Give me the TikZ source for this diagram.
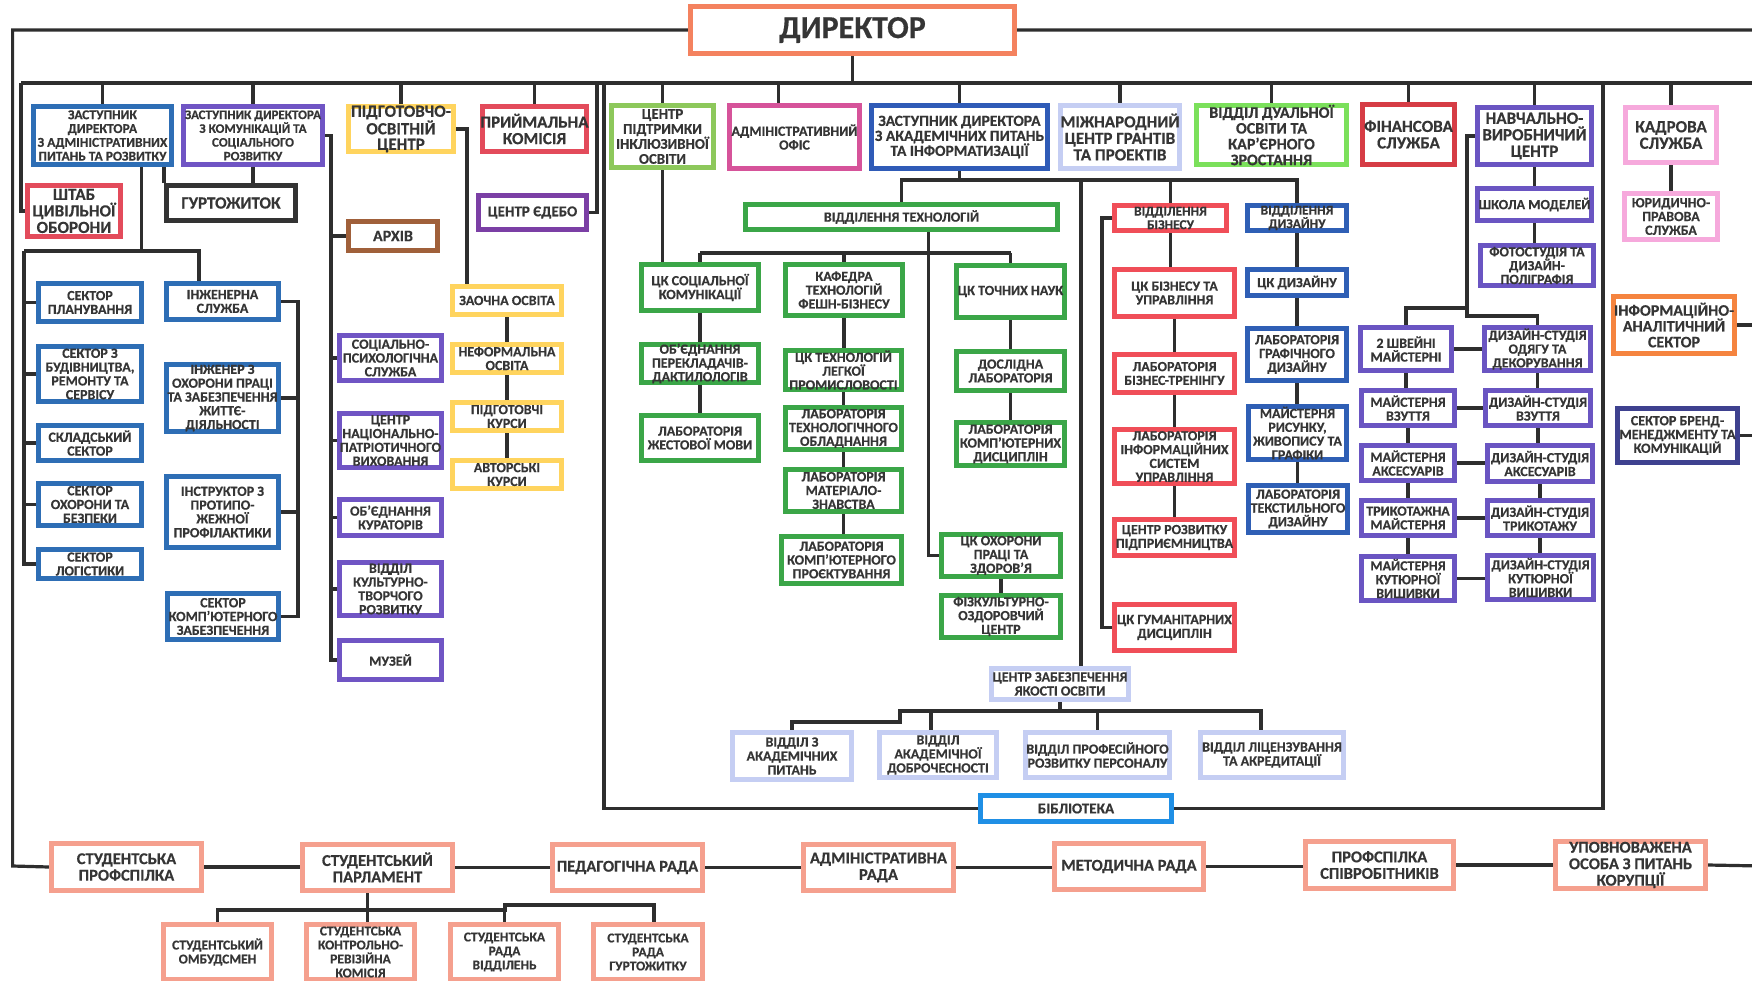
\documentclass[tikz,border=0pt]{standalone}
\usepackage{fontspec}
\setmainfont{Carlito}[BoldFeatures={FakeBold=0.4}]
\pgfdeclarelayer{bg}
\pgfsetlayers{bg,main}
\definecolor{txt}{HTML}{353535}
\definecolor{lnc}{HTML}{2E2E2E}
\definecolor{cDir}{HTML}{F4825F}
\definecolor{cSal}{HTML}{F5A08E}
\definecolor{cBlue}{HTML}{2E6EB5}
\definecolor{cPurp}{HTML}{7055C4}
\definecolor{cRed}{HTML}{E34B5B}
\definecolor{cRedB}{HTML}{D63C45}
\definecolor{cRedC}{HTML}{F04E58}
\definecolor{cYel}{HTML}{FFD45E}
\definecolor{cBrown}{HTML}{A0603A}
\definecolor{cEdebo}{HTML}{7B3FA5}
\definecolor{cGrnA}{HTML}{8DC85B}
\definecolor{cGrnB}{HTML}{7BE05B}
\definecolor{cGrnC}{HTML}{3BA648}
\definecolor{cPink}{HTML}{D6539A}
\definecolor{cPinkL}{HTML}{F6A9DC}
\definecolor{cBlueB}{HTML}{2F5BB7}
\definecolor{cBlueC}{HTML}{2F5FB5}
\definecolor{cLav}{HTML}{C5CEF3}
\definecolor{cNvc}{HTML}{6A55C2}
\definecolor{cOrange}{HTML}{F5843F}
\definecolor{cNavy}{HTML}{3E418F}
\definecolor{cBib}{HTML}{1F8FE5}
\definecolor{cBlack}{HTML}{333333}
\newcommand\fzDir{\fontsize{32}{34}\selectfont\bfseries}
\newcommand\fzL{\fontsize{17}{16.5}\selectfont\bfseries}
\newcommand\fzLm{\fontsize{16}{15.8}\selectfont\bfseries}
\newcommand\fzB{\fontsize{16.5}{16.5}\selectfont\bfseries}
\newcommand\fzMm{\fontsize{15}{15}\selectfont\bfseries}
\newcommand\fzM{\fontsize{14}{13.8}\selectfont\bfseries}
\newcommand\fzMs{\fontsize{13.5}{13.5}\selectfont\bfseries}
\newcommand\fzS{\fontsize{13.5}{13.8}\selectfont\bfseries}
\newcommand\fzQ{\fontsize{14}{14}\selectfont\bfseries}
\newcommand\fzT{\fontsize{13.5}{14}\selectfont\bfseries}
% name x1 y1 x2 y2 colour font text
\newcommand\obox[8]{%
  \node[box, draw=#6, minimum width={#4pt-#2pt-5pt}, minimum height={#5pt-#3pt-5pt}]
    (#1) at ({(#2+#4)/2},{(#3+#5)/2}) {};
  \node[lbl, font=#7] (#1-t) at (#1.center) {#8};}
\begin{document}
\begin{tikzpicture}[x=1pt,y=-1pt,
  box/.style={rectangle, line width=5pt, fill=white, inner sep=0pt},
  lbl/.style={text=txt, align=center, inner sep=0pt},
  ln/.style={line width=3.2pt, draw=lnc}]
\useasboundingbox (0,0) rectangle (1752,980);
\clip (0,0) rectangle (1752,980);

\obox{dir}{688}{4}{1017}{56}{cDir}{\fzDir}{ДИРЕКТОР}
% top row
\obox{zadm}{31}{104}{174}{167}{cBlue}{\fzS}{ЗАСТУПНИК\\ДИРЕКТОРА\\З АДМІНІСТРАТИВНИХ\\ПИТАНЬ ТА РОЗВИТКУ}
\obox{zkom}{181}{104}{325}{167}{cPurp}{\fontsize{13}{13.8}\selectfont\bfseries}{ЗАСТУПНИК ДИРЕКТОРА\\З КОМУНІКАЦІЙ ТА\\СОЦІАЛЬНОГО\\РОЗВИТКУ}
\obox{shtab}{25}{183}{123}{239}{cRed}{\fzL}{ШТАБ\\ЦИВІЛЬНОЇ\\ОБОРОНИ}
\obox{gurt}{164}{183}{298}{223}{cBlack}{\fzL}{ГУРТОЖИТОК}
\obox{pidg}{346}{104}{456}{154}{cYel}{\fontsize{17}{15.5}\selectfont\bfseries}{ПІДГОТОВЧО-\\ОСВІТНІЙ\\ЦЕНТР}
\obox{arch}{346}{219}{440}{253}{cBrown}{\fzLm}{АРХІВ}
\obox{prkom}{480}{104}{589}{154}{cRed}{\fzL}{ПРИЙМАЛЬНА\\КОМІСІЯ}
\obox{edebo}{476}{193}{589}{232}{cEdebo}{\fzMm}{ЦЕНТР ЄДЕБО}
\obox{zaoch}{450}{284}{564}{317}{cYel}{\fzM}{ЗАОЧНА ОСВІТА}
\obox{nef}{450}{342}{564}{375}{cYel}{\fzM}{НЕФОРМАЛЬНА\\ОСВІТА}
\obox{pkur}{450}{400}{564}{433}{cYel}{\fzM}{ПІДГОТОВЧІ\\КУРСИ}
\obox{avt}{450}{458}{564}{491}{cYel}{\fzM}{АВТОРСЬКІ\\КУРСИ}
% admin sectors
\obox{splan}{36}{281}{144}{324}{cBlue}{\fzM}{СЕКТОР\\ПЛАНУВАННЯ}
\obox{sbud}{36}{344}{144}{404}{cBlue}{\fzM}{СЕКТОР З\\БУДІВНИЦТВА,\\РЕМОНТУ ТА\\СЕРВІСУ}
\obox{sskl}{36}{423}{144}{463}{cBlue}{\fzM}{СКЛАДСЬКИЙ\\СЕКТОР}
\obox{sohb}{36}{481}{144}{528}{cBlue}{\fzM}{СЕКТОР\\ОХОРОНИ ТА\\БЕЗПЕКИ}
\obox{slog}{36}{547}{144}{581}{cBlue}{\fzM}{СЕКТОР\\ЛОГІСТИКИ}
\obox{inzh}{164}{281}{281}{322}{cBlue}{\fzM}{ІНЖЕНЕРНА\\СЛУЖБА}
\obox{inop}{164}{362}{281}{434}{cBlue}{\fzM}{ІНЖЕНЕР З\\ОХОРОНИ ПРАЦІ\\ТА ЗАБЕЗПЕЧЕННЯ\\ЖИТТЄ-\\ДІЯЛЬНОСТІ}
\obox{inpr}{164}{474}{281}{550}{cBlue}{\fzM}{ІНСТРУКТОР З\\ПРОТИПО-\\ЖЕЖНОЇ\\ПРОФІЛАКТИКИ}
\obox{skomp}{165}{591}{281}{642}{cBlue}{\fzM}{СЕКТОР\\КОМП’ЮТЕРНОГО\\ЗАБЕЗПЕЧЕННЯ}
% communication column
\obox{sps}{337}{333}{444}{383}{cPurp}{\fzM}{СОЦІАЛЬНО-\\ПСИХОЛОГІЧНА\\СЛУЖБА}
\obox{cnp}{337}{411}{444}{470}{cPurp}{\fzM}{ЦЕНТР\\НАЦІОНАЛЬНО-\\ПАТРІОТИЧНОГО\\ВИХОВАННЯ}
\obox{okur}{337}{497}{444}{538}{cPurp}{\fzM}{ОБ’ЄДНАННЯ\\КУРАТОРІВ}
\obox{vktr}{337}{560}{444}{618}{cPurp}{\fzM}{ВІДДІЛ\\КУЛЬТУРНО-\\ТВОРЧОГО\\РОЗВИТКУ}
\obox{muz}{337}{638}{444}{682}{cPurp}{\fzM}{МУЗЕЙ}
% middle top row
\obox{cpio}{609}{103}{716}{170}{cGrnA}{\fontsize{14.8}{15}\selectfont\bfseries}{ЦЕНТР\\ПІДТРИМКИ\\ІНКЛЮЗИВНОЇ\\ОСВІТИ}
\obox{adof}{727}{103}{862}{171}{cPink}{\fzM}{АДМІНІСТРАТИВНИЙ\\ОФІС}
\obox{zak}{869}{103}{1050}{171}{cBlueB}{\fontsize{15.5}{15}\selectfont\bfseries}{ЗАСТУПНИК ДИРЕКТОРА\\З АКАДЕМІЧНИХ ПИТАНЬ\\ТА ІНФОРМАТИЗАЦІЇ}
\obox{mcg}{1058}{103}{1182}{171}{cLav}{\fzL}{МІЖНАРОДНИЙ\\ЦЕНТР ГРАНТІВ\\ТА ПРОЕКТІВ}
\obox{dual}{1194}{103}{1349}{167}{cGrnB}{\fzLm}{ВІДДІЛ ДУАЛЬНОЇ\\ОСВІТИ ТА\\КАР’ЄРНОГО\\ЗРОСТАННЯ}
\obox{fin}{1360}{102}{1457}{167}{cRedB}{\fzL}{ФІНАНСОВА\\СЛУЖБА}
\obox{nvc}{1475}{105}{1594}{167}{cNvc}{\fzL}{НАВЧАЛЬНО-\\ВИРОБНИЧИЙ\\ЦЕНТР}
\obox{kadr}{1623}{105}{1719}{165}{cPinkL}{\fzL}{КАДРОВА\\СЛУЖБА}
\obox{yur}{1622}{191}{1720}{242}{cPinkL}{\fzM}{ЮРИДИЧНО-\\ПРАВОВА\\СЛУЖБА}
\obox{ias}{1611}{294}{1737}{356}{cOrange}{\fzLm}{ІНФОРМАЦІЙНО-\\АНАЛІТИЧНИЙ\\СЕКТОР}
\obox{brand}{1615}{406}{1740}{465}{cNavy}{\fzM}{СЕКТОР БРЕНД-\\МЕНЕДЖМЕНТУ ТА\\КОМУНІКАЦІЙ}
% technologies
\obox{vtech}{743}{202}{1060}{232}{cGrnC}{\fzM}{ВІДДІЛЕННЯ ТЕХНОЛОГІЙ}
\obox{cksk}{639}{262}{761}{313}{cGrnC}{\fzM}{ЦК СОЦІАЛЬНОЇ\\КОМУНІКАЦІЇ}
\obox{kaf}{783}{262}{905}{318}{cGrnC}{\fzM}{КАФЕДРА\\ТЕХНОЛОГІЙ\\ФЕШН-БІЗНЕСУ}
\obox{cktn}{954}{263}{1067}{320}{cGrnC}{\fzM}{ЦК ТОЧНИХ НАУК}
\obox{oper}{639}{342}{761}{385}{cGrnC}{\fzM}{ОБ’ЄДНАННЯ\\ПЕРЕКЛАДАЧІВ-\\ДАКТИЛОЛОГІВ}
\obox{ckleg}{783}{348}{904}{392}{cGrnC}{\fzM}{ЦК ТЕХНОЛОГІЙ\\ЛЕГКОЇ\\ПРОМИСЛОВОСТІ}
\obox{dosl}{954}{349}{1067}{393}{cGrnC}{\fzM}{ДОСЛІДНА\\ЛАБОРАТОРІЯ}
\obox{lzh}{639}{413}{761}{463}{cGrnC}{\fzM}{ЛАБОРАТОРІЯ\\ЖЕСТОВОЇ МОВИ}
\obox{lto}{783}{405}{904}{452}{cGrnC}{\fzM}{ЛАБОРАТОРІЯ\\ТЕХНОЛОГІЧНОГО\\ОБЛАДНАННЯ}
\obox{lmat}{783}{467}{904}{514}{cGrnC}{\fzM}{ЛАБОРАТОРІЯ\\МАТЕРІАЛО-\\ЗНАВСТВА}
\obox{lkp}{779}{534}{904}{586}{cGrnC}{\fzM}{ЛАБОРАТОРІЯ\\КОМП’ЮТЕРНОГО\\ПРОЄКТУВАННЯ}
\obox{lkd}{954}{420}{1067}{468}{cGrnC}{\fzM}{ЛАБОРАТОРІЯ\\КОМП’ЮТЕРНИХ\\ДИСЦИПЛІН}
\obox{ckop}{939}{532}{1063}{579}{cGrnC}{\fzM}{ЦК ОХОРОНИ\\ПРАЦІ ТА\\ЗДОРОВ’Я}
\obox{fiz}{939}{593}{1063}{640}{cGrnC}{\fzM}{ФІЗКУЛЬТУРНО-\\ОЗДОРОВЧИЙ\\ЦЕНТР}
% business
\obox{vbiz}{1112}{203}{1229}{233}{cRedC}{\fzMs}{ВІДДІЛЕННЯ\\БІЗНЕСУ}
\obox{ckbiz}{1112}{267}{1237}{319}{cRedC}{\fzM}{ЦК БІЗНЕСУ ТА\\УПРАВЛІННЯ}
\obox{lbt}{1112}{352}{1237}{395}{cRedC}{\fzM}{ЛАБОРАТОРІЯ\\БІЗНЕС-ТРЕНІНГУ}
\obox{lis}{1112}{427}{1237}{486}{cRedC}{\fzM}{ЛАБОРАТОРІЯ\\ІНФОРМАЦІЙНИХ\\СИСТЕМ\\УПРАВЛІННЯ}
\obox{crp}{1112}{517}{1237}{558}{cRedC}{\fzM}{ЦЕНТР РОЗВИТКУ\\ПІДПРИЄМНИЦТВА}
\obox{ckgum}{1112}{602}{1237}{653}{cRedC}{\fzM}{ЦК ГУМАНІТАРНИХ\\ДИСЦИПЛІН}
% design
\obox{vdiz}{1245}{203}{1349}{233}{cBlueC}{\fzMs}{ВІДДІЛЕННЯ\\ДИЗАЙНУ}
\obox{ckdiz}{1245}{267}{1349}{298}{cBlueC}{\fzM}{ЦК ДИЗАЙНУ}
\obox{lgd}{1245}{326}{1349}{383}{cBlueC}{\fzM}{ЛАБОРАТОРІЯ\\ГРАФІЧНОГО\\ДИЗАЙНУ}
\obox{mrys}{1246}{404}{1349}{462}{cBlueC}{\fzM}{МАЙСТЕРНЯ\\РИСУНКУ,\\ЖИВОПИСУ ТА\\ГРАФІКИ}
\obox{ltd}{1246}{483}{1350}{535}{cBlueC}{\fzM}{ЛАБОРАТОРІЯ\\ТЕКСТИЛЬНОГО\\ДИЗАЙНУ}
% production centre
\obox{shm}{1475}{186}{1594}{223}{cNvc}{\fzM}{ШКОЛА МОДЕЛЕЙ}
\obox{foto}{1478}{243}{1596}{288}{cNvc}{\fzM}{ФОТОСТУДІЯ ТА\\ДИЗАЙН-\\ПОЛІГРАФІЯ}
\obox{shv}{1358}{325}{1454}{373}{cNvc}{\fzM}{2 ШВЕЙНІ\\МАЙСТЕРНІ}
\obox{dso}{1482}{325}{1593}{373}{cNvc}{\fzM}{ДИЗАЙН-СТУДІЯ\\ОДЯГУ ТА\\ДЕКОРУВАННЯ}
\obox{mv}{1359}{388}{1457}{428}{cNvc}{\fzM}{МАЙСТЕРНЯ\\ВЗУТТЯ}
\obox{dsv}{1483}{388}{1593}{428}{cNvc}{\fzM}{ДИЗАЙН-СТУДІЯ\\ВЗУТТЯ}
\obox{ma}{1359}{443}{1457}{483}{cNvc}{\fzM}{МАЙСТЕРНЯ\\АКСЕСУАРІВ}
\obox{dsa}{1485}{443}{1595}{484}{cNvc}{\fzM}{ДИЗАЙН-СТУДІЯ\\АКСЕСУАРІВ}
\obox{tm}{1359}{498}{1457}{538}{cNvc}{\fzM}{ТРИКОТАЖНА\\МАЙСТЕРНЯ}
\obox{dst}{1485}{498}{1595}{538}{cNvc}{\fzM}{ДИЗАЙН-СТУДІЯ\\ТРИКОТАЖУ}
\obox{mkv}{1359}{554}{1457}{603}{cNvc}{\fzM}{МАЙСТЕРНЯ\\КУТЮРНОЇ\\ВИШИВКИ}
\obox{dskv}{1485}{553}{1596}{602}{cNvc}{\fzM}{ДИЗАЙН-СТУДІЯ\\КУТЮРНОЇ\\ВИШИВКИ}
% quality
\obox{czyo}{989}{666}{1131}{702}{cLav}{\fzQ}{ЦЕНТР ЗАБЕЗПЕЧЕННЯ\\ЯКОСТІ ОСВІТИ}
\obox{vap}{730}{730}{854}{782}{cLav}{\fzQ}{ВІДДІЛ З\\АКАДЕМІЧНИХ\\ПИТАНЬ}
\obox{vad}{877}{730}{999}{780}{cLav}{\fzQ}{ВІДДІЛ\\АКАДЕМІЧНОЇ\\ДОБРОЧЕСНОСТІ}
\obox{vpr}{1023}{730}{1172}{780}{cLav}{\fzQ}{ВІДДІЛ ПРОФЕСІЙНОГО\\РОЗВИТКУ ПЕРСОНАЛУ}
\obox{vlic}{1198}{730}{1346}{780}{cLav}{\fzQ}{ВІДДІЛ ЛІЦЕНЗУВАННЯ\\ТА АКРЕДИТАЦІЇ}
\obox{bibl}{978}{793}{1174}{824}{cBib}{\fzMm}{БІБЛІОТЕКА}
% bottom row
\obox{sprof}{49}{841}{204}{893}{cSal}{\fzB}{СТУДЕНТСЬКА\\ПРОФСПІЛКА}
\obox{spar}{300}{842}{455}{893}{cSal}{\fzB}{СТУДЕНТСЬКИЙ\\ПАРЛАМЕНТ}
\obox{ped}{550}{842}{705}{893}{cSal}{\fzB}{ПЕДАГОГІЧНА РАДА}
\obox{adr}{801}{842}{956}{893}{cSal}{\fzB}{АДМІНІСТРАТИВНА\\РАДА}
\obox{met}{1052}{841}{1206}{892}{cSal}{\fzB}{МЕТОДИЧНА РАДА}
\obox{prof}{1303}{839}{1456}{891}{cSal}{\fzB}{ПРОФСПІЛКА\\СПІВРОБІТНИКІВ}
\obox{upov}{1553}{839}{1708}{891}{cSal}{\fzB}{УПОВНОВАЖЕНА\\ОСОБА З ПИТАНЬ\\КОРУПЦІЇ}
\obox{omb}{161}{922}{274}{982}{cSal}{\fzT}{СТУДЕНТСЬКИЙ\\ОМБУДСМЕН}
\obox{kontr}{304}{922}{417}{982}{cSal}{\fzT}{СТУДЕНТСЬКА\\КОНТРОЛЬНО-\\РЕВІЗІЙНА\\КОМІСІЯ}
\obox{rvid}{448}{922}{561}{982}{cSal}{\fzT}{СТУДЕНТСЬКА\\РАДА\\ВІДДІЛЕНЬ}
\obox{rgurt}{591}{922}{705}{982}{cSal}{\fzT}{СТУДЕНТСЬКА\\РАДА\\ГУРТОЖИТКУ}

\begin{pgfonlayer}{bg}
\coordinate (busL) at (21,83);
\coordinate (busR) at (1762,83);
\coordinate (edgeL) at (12.6,866);
\coordinate (edgeR) at (1762,866);
\coordinate (edb) at (597,83);
\coordinate (lpL) at (604,83);
\coordinate (lpR) at (1603,83);
\draw[ln] (dir.west) -| (edgeL) -- (sprof.west);
\draw[ln] (dir.east) -| (edgeR) -- (upov.east);
\draw[ln] (dir.south) -- (dir.south |- busL);
\draw[ln] (busL) -- (busR);
\draw[ln] (busL) |- (shtab.west);
\foreach \n in {zadm,zkom,pidg,prkom,cpio,zak,mcg,dual,fin,nvc,kadr}
  \draw[ln] (\n.north) -- (\n.north |- busL);
\draw[ln] ([xshift=-16pt]adof.north) -- ([xshift=-16pt]adof.north |- busL);
\draw[ln] (edb) |- (edebo.east);
\draw[ln] (lpL) |- (bibl.west);
\draw[ln] (bibl.east) -| (lpR);
% hostel
\draw[ln] (gurt.north west) -- (gurt.north west |- zadm.south);
\draw[ln] (zkom.south) -- (zkom.south |- gurt.north);
% admin sectors
\coordinate (abL) at (24,251);
\coordinate (abR) at (199,251);
\draw[ln] ([xshift=39pt]zadm.south) -- ([xshift=39pt]zadm.south |- abL);
\draw[ln] (abL) -- (abR) -- (abR |- inzh.north);
\draw[ln] (abL) |- (slog.west);
\foreach \n in {splan,sbud,sskl,sohb} \draw[ln] (abL |- \n.west) -- (\n.west);
\coordinate (icR) at (298,300);
\draw[ln] (inzh.east) -| (icR |- skomp.east) -- (skomp.east);
\foreach \n in {inop,inpr} \draw[ln] (\n.east) -- (icR |- \n.east);
% communication
\coordinate (cmX) at (331,140);
\draw[ln] (zkom.east) -| (cmX |- muz.west) -- (muz.west);
\foreach \n in {arch,sps,cnp,okur,vktr} \draw[ln] (cmX |- \n.west) -- (\n.west);
% preparatory centre
\draw[ln] (pidg.east) -| ([xshift=-40pt]zaoch.north);
\draw[ln] (zaoch.south) -- (nef.north);
\draw[ln] (nef.south) -- (pkur.north);
\draw[ln] (pkur.south) -- (avt.north);
% inclusive centre
\draw[ln] (cpio.south) -- (cpio.south |- cksk.north);
% academic deputy
\coordinate (sbR) at (1297,180);
\coordinate (qX) at (1081,180);
\draw[ln] (zak.south) -- (zak.south |- sbR);
\draw[ln] (vtech.north) -- (vtech.north |- sbR) -- (sbR) -- (vdiz.north);
\draw[ln] (vbiz.north) -- (vbiz.north |- sbR);
\draw[ln] (qX) -- (qX |- czyo.north);
% technologies
\coordinate (tb) at (929,253);
\draw[ln] ([xshift=27pt]vtech.south) |- (ckop.west);
\draw[ln] (cksk.north |- tb) -- (cktn.north |- tb);
\foreach \n in {cksk,kaf,cktn} \draw[ln] (\n.north) -- (\n.north |- tb);
\foreach \a/\b in {cksk/oper,oper/lzh,kaf/ckleg,ckleg/lto,lto/lmat,lmat/lkp,cktn/dosl,dosl/lkd,ckop/fiz}
  \draw[ln] (\a.south) -- (\a.south |- \b.north);
% quality
\coordinate (qj) at (900,711);
\coordinate (qa) at (900,722);
\draw[ln] (czyo.south) -- (czyo.south |- qj);
\draw[ln] (vap.north) |- (qa) -- (qj) -| ([xshift=-11pt]vlic.north);
\draw[ln] ([xshift=-7pt]vad.north) -- ([xshift=-7pt]vad.north |- qj);
\draw[ln] (vpr.north) -- (vpr.north |- qj);
% business and design
\coordinate (bzL) at (1102,400);
\draw[ln] (vbiz.west) -| (bzL |- ckgum.west) -- (ckgum.west);
\foreach \a/\b in {vbiz/ckbiz,ckbiz/lbt,lbt/lis,lis/crp,vdiz/ckdiz,ckdiz/lgd,lgd/mrys,mrys/ltd}
  \draw[ln] (\a.south) -- (\a.south |- \b.north);
% production centre
\coordinate (nvJ) at (1467,308);
\coordinate (nvK) at (1467,316);
\draw[ln] (nvc.west) -| (nvJ) -| (shv.north);
\draw[ln] (nvJ) -- (nvK) -| (dso.north);
\foreach \a/\b in {nvc/shm,shm/foto,shv/mv,mv/ma,ma/tm,tm/mkv,dso/dsv,dsv/dsa,dsa/dst,dst/dskv}
  \draw[ln] (\a.south) -- (\a.south |- \b.north);
\foreach \a/\b in {shv/dso,mv/dsv,ma/dsa,tm/dst,mkv/dskv}
  \draw[ln] (\a.east) -- (\a.east -| \b.west);
% right side
\draw[ln] (kadr.south) -- (yur.north);
\draw[ln] (ias.east) -- (ias.east -| edgeR);
\draw[ln] (brand.east) -- (brand.east -| edgeR);
% bottom row
\foreach \a/\b in {sprof/spar,spar/ped,ped/adr,adr/met,met/prof,prof/upov}
  \draw[ln] (\a.east) -- (\a.east -| \b.west);
\coordinate (st1) at (505,910);
\coordinate (st2) at (505,905);
\draw[ln] ([xshift=-10pt]spar.south) -- ([xshift=-10pt]spar.south |- kontr.north);
\draw[ln] (omb.north) |- (st1) -- (st2) -| ([xshift=6pt]rgurt.north);
\draw[ln] (rvid.north |- st2) -- (rvid.north);
\end{pgfonlayer}
\end{tikzpicture}
\end{document}
